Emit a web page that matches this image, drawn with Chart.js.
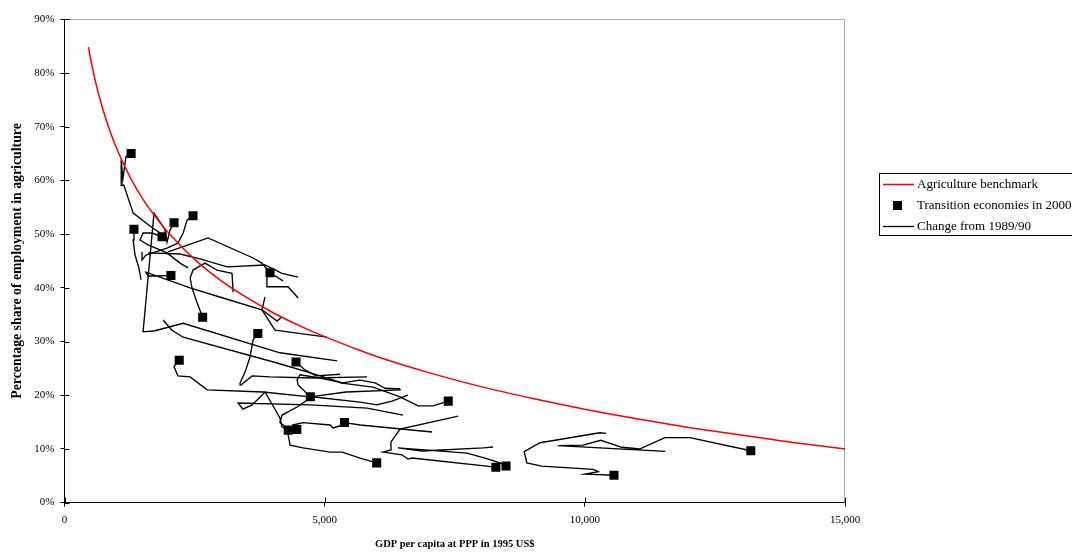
<!DOCTYPE html>
<html>
<head>
<meta charset="utf-8">
<script src="https://cdn.jsdelivr.net/npm/chart.js@4/dist/chart.umd.min.js"></script>
<style>
  html, body { margin: 0; padding: 0; background: #fff; overflow: hidden; }
  #wrap { position: relative; width: 1072px; height: 552px; }
</style>
</head>
<body>
<div id="wrap"><canvas id="chart" width="1072" height="552"></canvas></div>
<script>
// Axis ticks
const xTickValues = [0, 5000, 10000, 15000];
const xTickLabels = ['0', '5,000', '10,000', '15,000'];
const yTickValues = [0, 10, 20, 30, 40, 50, 60, 70, 80, 90];
const yTickLabels = ['0%', '10%', '20%', '30%', '40%', '50%', '60%', '70%', '80%', '90%'];

// Agriculture benchmark: GDP per capita (1995 US$ PPP) vs. share in agriculture (%)
const benchGdp = [460, 500, 600, 700, 800, 900, 1000, 1250, 1500, 1750, 2000, 2500, 3000, 3500, 4000, 4500,
                  5000, 5500, 6000, 7000, 8000, 9000, 10000, 11000, 12000, 13000, 14000, 15000];
const benchShare = [84.8, 82.7, 78.2, 74.5, 71.3, 68.5, 66.0, 60.8, 56.6, 53.2, 50.2, 45.3, 41.4, 38.2, 35.4, 33.0,
                    30.9, 29.0, 27.2, 24.2, 21.6, 19.4, 17.4, 15.6, 14.0, 12.6, 11.2, 10.0];

// Transition economies in 2000
const gdp2000 = [1280, 1335, 1875, 2105, 2470, 2045, 2655, 2205, 3715, 3950, 4450, 4725, 4300, 4465, 5380,
                 6000, 7375, 8290, 8485, 10560, 13190];
const agri2000 = [65.0, 50.9, 49.5, 52.1, 53.4, 42.3, 34.5, 26.5, 31.5, 42.8, 26.2, 19.7, 13.5, 13.6, 14.9,
                  7.4, 18.9, 6.6, 6.8, 5.1, 9.65];

// Yearly paths since 1989/90: [GDP per capita, share in agriculture]
const change01 = [[1840, 50.2], [1700, 51.1], [1320, 53.9], [1140, 59.1], [1090, 59.1], [1090, 64.0], [1120, 60.1], [1180, 64.4], [1280, 65.0]];
const change02 = [[1470, 41.5], [1430, 43.7], [1355, 46.1], [1320, 48.9], [1335, 50.9]];
const change03 = [[2375, 43.7], [2220, 44.6], [1970, 46.5], [1605, 48.0], [1450, 48.9], [1510, 50.2], [1680, 50.2], [1875, 49.5]];
const change04 = [[5240, 26.4], [4140, 27.9], [2280, 33.4], [1740, 32.0], [1510, 31.8], [1720, 53.9], [1930, 50.9], [1970, 48.5], [2030, 50.8], [2105, 52.1]];
const change05 = [[1490, 46.7], [1490, 45.2], [1565, 46.1], [1970, 47.4], [2180, 48.3], [2280, 50.2], [2355, 52.6], [2470, 53.4]];
const change06 = [[5045, 30.8], [4045, 32.1], [3795, 35.9], [3045, 38.1], [2415, 40.0], [1565, 42.9], [1605, 42.2], [1795, 42.2], [2045, 42.3]];
const change07 = [[3240, 39.2], [3220, 42.7], [2930, 43.3], [2700, 44.6], [2470, 43.3], [2415, 41.8], [2450, 40.0], [2545, 37.3], [2655, 34.5]];
const change08 = [[6465, 21.0], [5410, 20.6], [4720, 19.7], [3815, 20.6], [2740, 21.0], [2415, 23.4], [2180, 23.6], [2105, 25.3], [2125, 25.6], [2205, 26.5]];
const change09 = [[5815, 23.4], [4775, 23.2], [3950, 23.4], [3605, 23.6], [3390, 21.9], [3375, 22.3], [3470, 24.3], [3565, 27.1], [3625, 30.3], [3715, 31.5]];
const change10 = [[4490, 38.1], [4295, 40.2], [3890, 40.2], [3890, 41.8], [3950, 42.8]];
const change11 = [[1990, 46.7], [2760, 49.3], [3625, 45.55], [3795, 44.6], [3950, 42.8]];
const change12 = [[5295, 23.9], [4835, 23.6], [4620, 24.7], [4450, 26.2]];
const change13 = [[6450, 21.15], [6160, 21.3], [5970, 22.3], [5680, 22.8], [5335, 22.3], [4910, 23.2], [4525, 23.8], [4470, 22.8], [4490, 21.9], [4725, 19.7]];
const change14 = [[6505, 16.3], [5815, 17.6], [4720, 18.2], [3335, 18.55], [3430, 17.4], [3605, 18.2], [3855, 20.6], [4140, 15.75], [4180, 14.1], [4300, 13.5]];
const change15 = [[5355, 14.45], [5160, 13.9], [5105, 14.45], [4585, 14.9], [4390, 14.45], [4465, 13.6]];
const change16 = [[7065, 13.15], [5680, 14.45], [5380, 14.9]];
const change17 = [[6600, 20.0], [6295, 18.9], [6005, 18.2], [5680, 18.7], [4755, 19.7], [4470, 17.8], [4180, 16.3], [4140, 14.9], [4275, 13.9], [4335, 10.7], [4585, 10.2], [5105, 9.4], [5335, 9.4], [5680, 8.3], [6000, 7.4]];
const change18 = [[5295, 22.3], [5930, 21.5], [6450, 19.7], [6795, 18.0], [7085, 18.0], [7375, 18.9]];
const change19 = [[7565, 16.1], [6450, 13.7], [6275, 11.3], [6275, 9.8], [6120, 9.4], [6255, 9.2], [6485, 8.9], [6600, 8.1], [6680, 8.3], [8290, 6.6]];
const change20 = [[8235, 10.35], [8045, 10.2], [6870, 9.6], [6410, 10.2], [7735, 9.2], [8080, 8.3], [8370, 7.4], [8485, 6.8]];
const change21 = [[10410, 12.9], [10290, 13.0], [9140, 11.15], [8835, 9.5], [8885, 7.4], [9170, 6.8], [10165, 6.2], [10260, 5.75], [10005, 5.3], [10560, 5.1]];
const change22 = [[11545, 9.55], [9480, 10.6], [9965, 10.7], [10305, 11.6], [10710, 10.3], [11060, 10.0], [11540, 12.1], [12020, 12.1], [13190, 9.65]];
const change23 = [[1895, 34.0], [2065, 32.1], [2280, 30.8], [4085, 26.0], [4855, 23.8], [5335, 22.3]];
const change24 = [[3855, 38.3], [3795, 35.9], [4085, 33.8], [4180, 34.6]];
const change25 = [[1605, 46.5], [2220, 46.3], [2605, 45.4], [3125, 43.9], [3855, 44.25], [4180, 42.7], [4490, 42.0]];
const change26 = [[3950, 42.8], [4200, 41.3]];

const changePaths = [change01, change02, change03, change04, change05, change06, change07, change08, change09,
  change10, change11, change12, change13, change14, change15, change16, change17, change18, change19,
  change20, change21, change22, change23, change24, change25, change26];

const SERIF = '"Liberation Serif", "Times New Roman", serif';

const datasets = [
  {
    label: 'Agriculture benchmark',
    data: benchGdp.map((g, i) => ({ x: g, y: benchShare[i] })),
    showLine: true,
    borderColor: '#ff0000',
    borderWidth: 1.5,
    pointRadius: 0,
    cubicInterpolationMode: 'monotone',
    order: 1
  },
  {
    label: 'Transition economies in 2000',
    data: gdp2000.map((g, i) => ({ x: g, y: agri2000[i] })),
    showLine: false,
    pointStyle: 'rect',
    pointRadius: 6.4,
    backgroundColor: '#000',
    borderWidth: 0,
    order: 0
  }
];
changePaths.forEach(p => datasets.push({
  label: 'Change from 1989/90',
  data: p,
  showLine: true,
  borderColor: '#000',
  borderWidth: 1.35,
  pointRadius: 0,
  tension: 0,
  order: 2
}));

// Plot frame (light top/right edges) and tick marks crossing the axes
const framePlugin = {
  id: 'frame',
  beforeDatasetsDraw(chart) {
    const { ctx, chartArea: a, scales } = chart;
    ctx.save();
    ctx.lineWidth = 1;
    ctx.strokeStyle = '#a8a8a8';
    ctx.beginPath();
    const top = Math.round(a.top) + 0.5;
    const right = Math.round(a.right) - 0.5;
    ctx.moveTo(a.left, top);
    ctx.lineTo(right, top);
    ctx.lineTo(right, a.bottom);
    ctx.stroke();
    ctx.strokeStyle = '#000';
    ctx.beginPath();
    scales.x.ticks.forEach(t => {
      const px = Math.round(scales.x.getPixelForValue(t.value)) + 0.5;
      ctx.moveTo(px, a.bottom);
      ctx.lineTo(px, a.bottom - 5);
    });
    scales.y.ticks.forEach(t => {
      const py = Math.round(scales.y.getPixelForValue(t.value)) + 0.5;
      ctx.moveTo(a.left, py);
      ctx.lineTo(a.left + 5, py);
    });
    ctx.stroke();
    ctx.restore();
  }
};

// Boxed legend to the right of the plot
const legendPlugin = {
  id: 'boxedLegend',
  afterDraw(chart) {
    const { ctx } = chart;
    const ds = chart.data.datasets;
    const bench = ds[0], dots = ds[1], path = ds[2];
    const left = 879.5, top = 173.5;
    ctx.save();
    ctx.fillStyle = '#fff';
    ctx.fillRect(left, top, 240, 62);
    ctx.strokeStyle = '#000';
    ctx.lineWidth = 1;
    ctx.strokeRect(left, top, 240, 62);

    ctx.lineWidth = bench.borderWidth;
    ctx.strokeStyle = bench.borderColor;
    ctx.beginPath(); ctx.moveTo(883, 184.5); ctx.lineTo(914, 184.5); ctx.stroke();

    ctx.fillStyle = dots.backgroundColor;
    ctx.fillRect(893, 201, 9, 9);

    ctx.lineWidth = 1.3;
    ctx.strokeStyle = path.borderColor;
    ctx.beginPath(); ctx.moveTo(883, 226.5); ctx.lineTo(914, 226.5); ctx.stroke();

    ctx.fillStyle = '#000';
    ctx.font = '13px ' + SERIF;
    ctx.textBaseline = 'middle';
    ctx.textAlign = 'left';
    ctx.fillText(bench.label, 917, 185);
    ctx.fillText(dots.label, 917, 206);
    ctx.fillText(path.label, 917, 227);
    ctx.restore();
  }
};

new Chart(document.getElementById('chart'), {
  type: 'scatter',
  data: { datasets },
  options: {
    responsive: false,
    animation: false,
    devicePixelRatio: 1,
    layout: { padding: { top: 19.3, right: 227, left: 0, bottom: 0 } },
    plugins: { legend: { display: false }, tooltip: { enabled: false } },
    events: [],
    scales: {
      x: {
        type: 'linear',
        min: 0,
        max: 15000,
        afterBuildTicks: s => { s.ticks = xTickValues.map(v => ({ value: v })); },
        afterFit: s => { s.height = 49.4; },
        ticks: {
          callback: (v, i) => xTickLabels[i],
          font: { family: SERIF, size: 11 },
          color: '#000',
          padding: 7,
          maxRotation: 0
        },
        grid: { display: true, drawOnChartArea: false, drawTicks: true, tickLength: 4, color: '#000' },
        border: { display: true, color: '#000', width: 1 },
        title: {
          display: true,
          text: 'GDP per capita at PPP in 1995 US$',
          font: { family: SERIF, size: 10.5, weight: 'bold' },
          color: '#000',
          padding: { top: 0, bottom: 1 }
        }
      },
      y: {
        type: 'linear',
        min: 0,
        max: 90,
        afterBuildTicks: s => { s.ticks = yTickValues.map(v => ({ value: v })); },
        afterFit: s => { s.width = 64.5; },
        ticks: {
          callback: (v, i) => yTickLabels[i],
          font: { family: SERIF, size: 11 },
          color: '#000',
          padding: 6
        },
        grid: { display: true, drawOnChartArea: false, drawTicks: true, tickLength: 4, color: '#000' },
        border: { display: true, color: '#000', width: 1 },
        title: {
          display: true,
          text: 'Percentage share of employment in agriculture',
          font: { family: SERIF, size: 13.8, weight: 'bold' },
          color: '#000',
          padding: { top: 9.5, bottom: 0 }
        }
      }
    }
  },
  plugins: [framePlugin, legendPlugin]
});
</script>
</body>
</html>
